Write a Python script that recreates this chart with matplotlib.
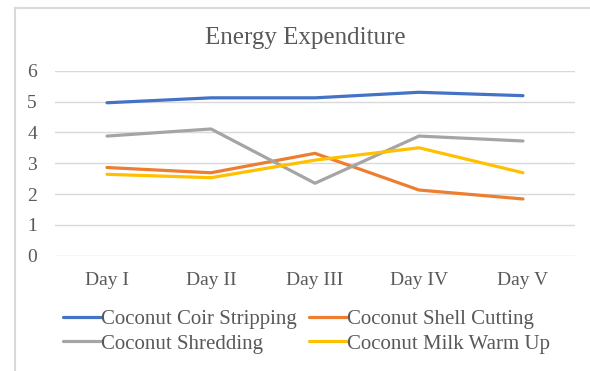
import matplotlib
matplotlib.use("Agg")
import matplotlib.pyplot as plt
from matplotlib.lines import Line2D

days = ["Day I", "Day II", "Day III", "Day IV", "Day V"]
coir_stripping = [4.96, 5.12, 5.12, 5.30, 5.19]
shell_cutting = [2.86, 2.69, 3.32, 2.13, 1.84]
shredding = [3.88, 4.11, 2.35, 3.88, 3.72]
milk_warm_up = [2.64, 2.53, 3.10, 3.50, 2.69]
series_names = ["Coconut Coir Stripping", "Coconut Shell Cutting",
                "Coconut Shredding", "Coconut Milk Warm Up"]
y_ticks = [0, 1, 2, 3, 4, 5, 6]

colors = ["#4472C4", "#ED7D31", "#A5A5A5", "#FFC000"]
text_color = "#595959"
grid_color = "#D9D9D9"

plt.rcParams['font.family'] = ['Liberation Serif', 'DejaVu Serif']

W, H = 590, 371
fig = plt.figure(figsize=(W / 100, H / 100), dpi=100)
ax = fig.add_axes([55 / W, 1 - 255.7 / H, (575 - 55) / W, (255.7 - 70.7) / H])

x = list(range(len(days)))
handles = []
for vals, c, name in zip([coir_stripping, shell_cutting, shredding, milk_warm_up],
                         colors, series_names):
    h, = ax.plot(x, vals, color=c, lw=2.3, solid_capstyle='round', label=name, zorder=3)
    handles.append(h)

ax.set_xlim(-0.5, len(days) - 0.5)
ax.set_ylim(0, 6)
ax.set_yticks(y_ticks)
ax.set_xticks(x)
ax.set_xticklabels(days)
ax.tick_params(axis='both', length=0, labelsize=14, colors=text_color)
ax.tick_params(axis='y', pad=13)
ax.tick_params(axis='x', pad=12)
ax.grid(axis='y', color=grid_color, lw=1.0)
ax.set_axisbelow(True)
for s in ax.spines.values():
    s.set_visible(False)

fig.text(305 / W, 1 - 38 / H, "Energy Expenditure", ha='center', va='center',
         fontsize=18, color=text_color)

# legend laid out row-wise (matplotlib fills columns first)
order = [0, 2, 1, 3]
leg = fig.legend(handles=[handles[i] for i in order],
                 labels=[series_names[i] for i in order], ncol=2, loc='center',
                 bbox_to_anchor=(306.5 / W, 1 - 331.5 / H), frameon=False,
                 fontsize=15, handlelength=1.8, handletextpad=0.0,
                 columnspacing=0.6, labelspacing=0.25, borderpad=0)
for t in leg.get_texts():
    t.set_color(text_color)
for l in leg.get_lines():
    l.set_linewidth(2.3)

# outer chart frame (left and top edges visible)
fx = 15 / W
fy = 1 - 7.5 / H
fig.add_artist(Line2D([fx, fx], [0, fy], color=grid_color, lw=1.5, transform=fig.transFigure))
fig.add_artist(Line2D([fx, 1], [fy, fy], color=grid_color, lw=1.5, transform=fig.transFigure))

fig.savefig("out.png", dpi=100)
